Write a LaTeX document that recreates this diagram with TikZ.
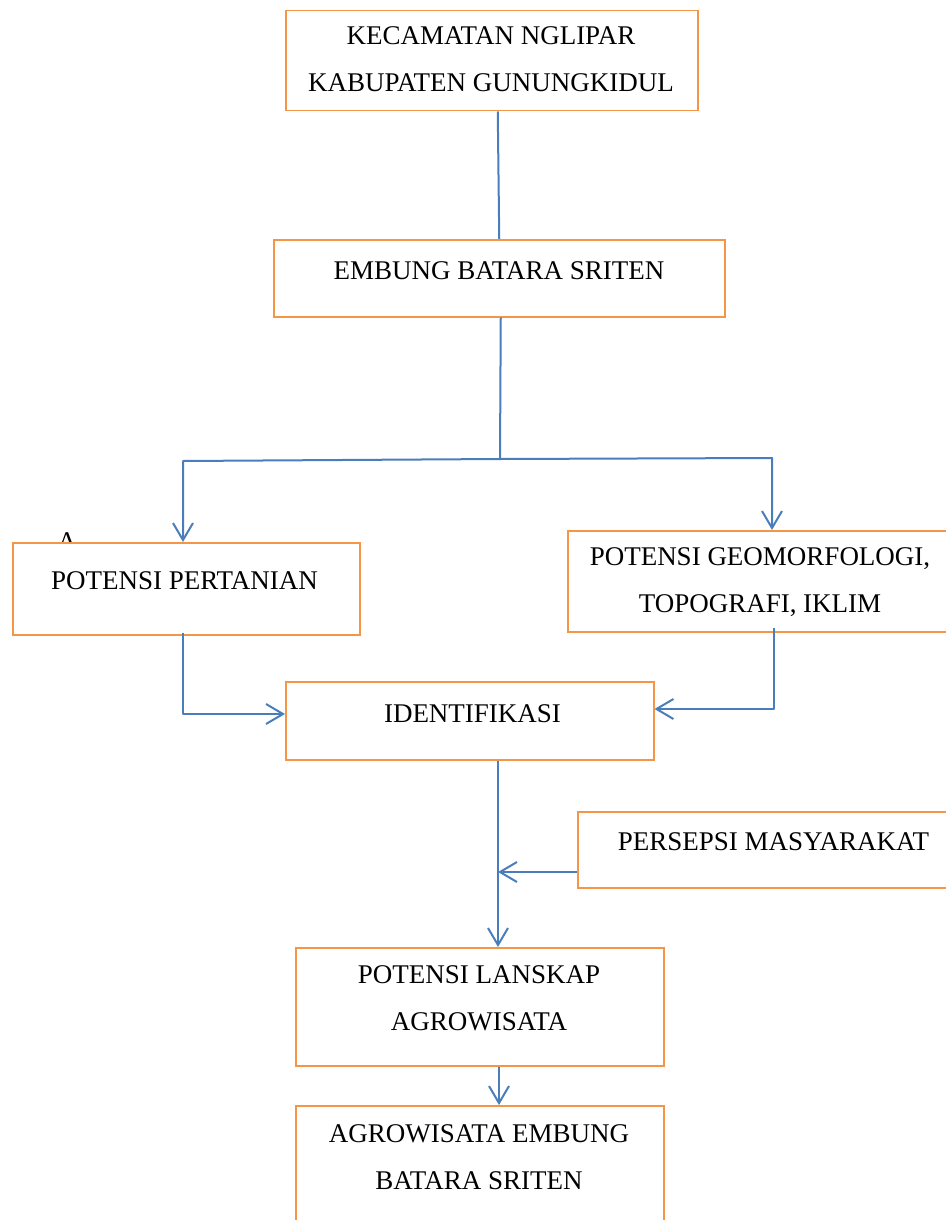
\documentclass[tikz,border=0pt]{standalone}
\usepackage{fontspec}
\setmainfont{Liberation Serif}
\usetikzlibrary{arrows.meta}
\definecolor{boxorange}{RGB}{244,150,70}
\definecolor{linkblue}{RGB}{74,126,187}
\tikzset{
  flowbox/.style={draw=boxorange, line width=1.5pt, fill=white, rectangle, inner sep=0pt, anchor=north west},
  boxtext/.style={inner sep=0pt, anchor=north, align=center, font=\fontsize{27}{47}\selectfont, text=black},
  conn/.style={draw=linkblue, line width=2pt, line join=round},
  arr/.style={conn, -{Straight Barb[length=17pt, width=20pt, line width=2pt]}}
}
\begin{document}
\begin{tikzpicture}[x=1pt, y=-1pt]
\useasboundingbox (0,0) rectangle (945,1220);
% partially hidden letter behind the POTENSI PERTANIAN box
\node[boxtext] (stray) at (67,532) {A};
% boxes
\node[flowbox, minimum width=412pt, minimum height=100pt] (b1) at (285,10) {};
\node[flowbox, minimum width=451pt, minimum height=77pt] (b2) at (273,239) {};
\node[flowbox, minimum width=347pt, minimum height=92pt] (p1) at (12,542) {};
\node[flowbox, minimum width=420pt, minimum height=101pt] (p2) at (567,530) {};
\node[flowbox, minimum width=368pt, minimum height=78pt] (id) at (285,681) {};
\node[flowbox, minimum width=420pt, minimum height=76pt] (pm) at (577,811) {};
\node[flowbox, minimum width=368pt, minimum height=118pt] (l1) at (295,947) {};
\node[flowbox, minimum width=368pt, minimum height=140pt] (ag) at (295,1105) {};
% texts
\node[boxtext] (t1) at (491,26) {KECAMATAN NGLIPAR\\KABUPATEN GUNUNGKIDUL};
\node[boxtext] (t2) at (499,261) {EMBUNG BATARA SRITEN};
\node[boxtext] (t3) at (184.5,571) {POTENSI PERTANIAN};
\node[boxtext] (t4) at (760,547) {POTENSI GEOMORFOLOGI,\\TOPOGRAFI, IKLIM};
\node[boxtext] (t5) at (472.5,704) {IDENTIFIKASI};
\node[boxtext] (t6) at (773.5,832) {PERSEPSI MASYARAKAT};
\node[boxtext] (t7) at (479,965) {POTENSI LANSKAP\\AGROWISATA};
\node[boxtext] (t8) at (479,1124) {AGROWISATA EMBUNG\\BATARA SRITEN};
% junction coordinates
\coordinate (j) at (500,459);
\coordinate (jl) at (183,461);
\coordinate (jr) at (772,458);
\coordinate (k1) at (183,714);
\coordinate (k2) at (774,709);
\coordinate (k3) at (498,872);
\coordinate (k4) at (499,1085);
% connectors
\draw[conn] (b1.south) ++(6,0) -- (b2.north);
\draw[conn] (b2.south) ++(1.5,0) -- (j);
\draw[arr] (j) -- (jl) -- (jl |- p1.north);
\draw[arr] (j) -- (jr) -- (jr |- p2.north);
\draw[arr] ([yshift=3pt]k1 |- p1.south) -- (k1) -- (k1 -| id.west);
\draw[arr] ([yshift=5pt]k2 |- p2.south) -- (k2) -- (k2 -| id.east);
\draw[arr] (k3 |- id.south) -- (k3 |- l1.north);
\draw[arr] (k3 -| pm.west) -- (k3);
\draw[arr] (k4 |- l1.south) -- (k4 |- ag.north);
\end{tikzpicture}
\end{document}
